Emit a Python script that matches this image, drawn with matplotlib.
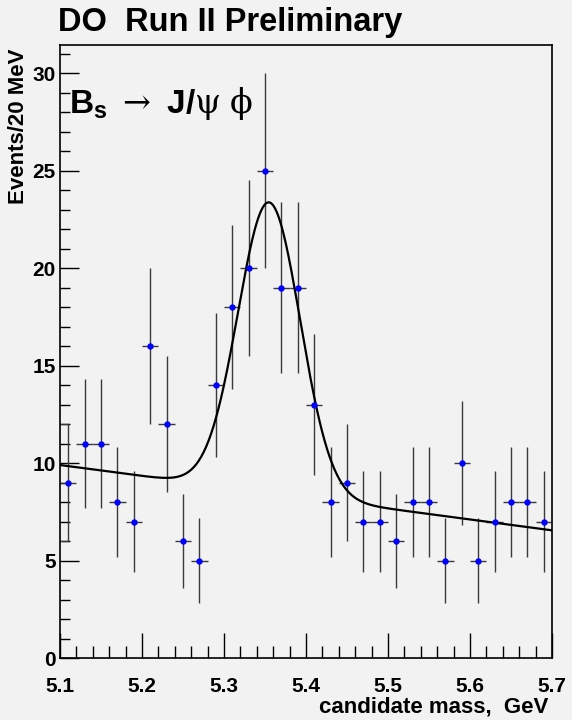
import numpy as np
import matplotlib
matplotlib.use("Agg")
import matplotlib.pyplot as plt
from matplotlib.ticker import MultipleLocator, FixedLocator

plt.rcParams['font.family'] = ['Liberation Sans', 'DejaVu Sans']
plt.rcParams['mathtext.fontset'] = 'custom'
plt.rcParams['mathtext.rm'] = 'DejaVu Serif'
plt.rcParams['mathtext.bf'] = 'Liberation Sans:bold'
plt.rcParams['mathtext.it'] = 'DejaVu Serif'

# ---- data ----
bin_centers = [5.11, 5.13, 5.15, 5.17, 5.19, 5.21, 5.23, 5.25, 5.27, 5.29,
               5.31, 5.33, 5.35, 5.37, 5.39, 5.41, 5.43, 5.45, 5.47, 5.49,
               5.51, 5.53, 5.55, 5.57, 5.59, 5.61, 5.63, 5.65, 5.67, 5.69]
counts = [9, 11, 11, 8, 7, 16, 12, 6, 5, 14,
          18, 20, 25, 19, 19, 13, 8, 9, 7, 7,
          6, 8, 8, 5, 10, 5, 7, 8, 8, 7]
count_errors = [3.0, 3.3, 3.3, 2.8, 2.6, 4.0, 3.5, 2.4, 2.2, 3.7,
                4.2, 4.5, 5.0, 4.4, 4.4, 3.6, 2.8, 3.0, 2.6, 2.6,
                2.4, 2.8, 2.8, 2.2, 3.2, 2.2, 2.6, 2.8, 2.8, 2.6]
bin_half_width = 0.01

# fit: gaussian signal + linear background (parameters)
fit_mean = 5.355
fit_sigma = 0.038
fit_amplitude = 14.9
bkg_at_51 = 9.9
bkg_at_57 = 6.55

x_ticks = [5.1, 5.2, 5.3, 5.4, 5.5, 5.6, 5.7]
y_ticks = [0, 5, 10, 15, 20, 25, 30]

bg = '#f2f2f2'
fig = plt.figure(figsize=(5.72, 7.2), dpi=100, facecolor=bg)
ax = fig.add_axes([60/572, 62/720, 492/572, 613/720], facecolor=bg)

# error bars
ax.errorbar(bin_centers, counts, yerr=count_errors, xerr=bin_half_width,
            fmt='none', ecolor='#3a3a3a', elinewidth=1.0, capsize=0, zorder=2)
# ROOT artifact at first bin
ax.plot([5.10, 5.11], [counts[0] + count_errors[0]] * 2, color='#3a3a3a', lw=1.0, zorder=2)
ax.plot([5.10, 5.11], [counts[0] - count_errors[0]] * 2, color='#3a3a3a', lw=1.0, zorder=2)
ax.plot(bin_centers, counts, 'o', color='#0000ff', markersize=4.6, zorder=4,
        markeredgewidth=0)

# fit curve
xf = np.linspace(5.1, 5.7, 600)
bkg = bkg_at_51 + (bkg_at_57 - bkg_at_51) * (xf - 5.1) / 0.6
yf = bkg + fit_amplitude * np.exp(-0.5 * ((xf - fit_mean) / fit_sigma) ** 2)
ax.plot(xf, yf, color='black', lw=1.6, zorder=3)

ax.set_xlim(5.1, 5.7)
ax.set_ylim(0, 31.45)
ax.xaxis.set_major_locator(FixedLocator(x_ticks))
ax.xaxis.set_minor_locator(MultipleLocator(0.02))
ax.yaxis.set_major_locator(FixedLocator(y_ticks))
ax.yaxis.set_minor_locator(MultipleLocator(1))
ax.set_xticklabels([f'{v:.1f}' for v in x_ticks])
ax.set_yticklabels([str(v) for v in y_ticks])
ax.tick_params(axis='both', which='major', direction='in', length=14, width=1.0,
               labelsize=15, pad=3)
ax.tick_params(axis='both', which='minor', direction='in', length=7, width=1.0)
ax.tick_params(axis='x', which='major', length=18, pad=14)
ax.tick_params(axis='x', which='minor', length=9)
for lab in ax.get_xticklabels() + ax.get_yticklabels():
    lab.set_fontweight('bold')
for s in ax.spines.values():
    s.set_linewidth(1.2)

fig.text(58/572, 1 - 22/720, 'DO  Run II Preliminary', fontsize=23.5, fontweight='bold',
         ha='left', va='center')
fig.text(548/572, 1 - 707/720, 'candidate mass,  GeV', fontsize=16, fontweight='bold',
         ha='right', va='center')
fig.text(19/572, 1 - 48/720, 'Events/20 MeV', fontsize=16, fontweight='bold',
         rotation=90, ha='center', va='top')
ax.text(0.018, 0.8896, r'$\mathbf{B_{s}}$ $\rightarrow$ $\mathbf{J/}\mathrm{\psi}$ $\mathrm{\phi}$',
        transform=ax.transAxes, fontsize=24, ha='left', va='baseline')

fig.savefig('out.png', dpi=100, facecolor=bg)
